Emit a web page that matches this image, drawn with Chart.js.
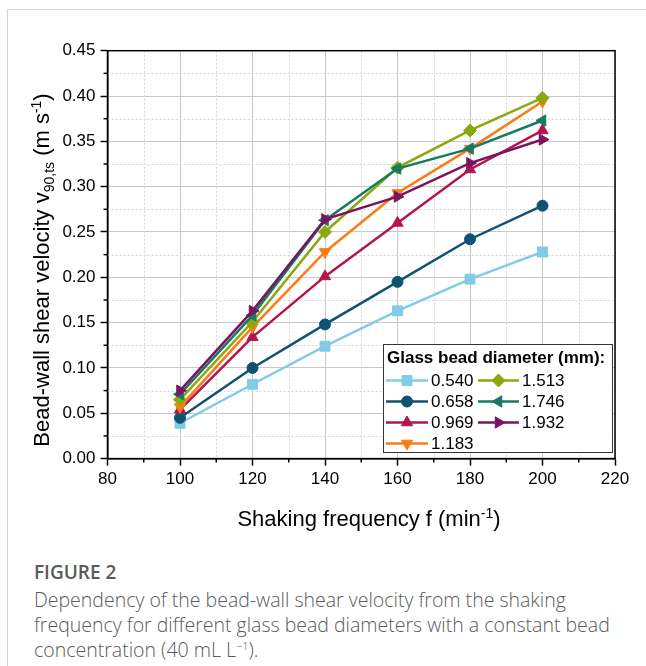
<!DOCTYPE html>
<html>
<head>
<meta charset="utf-8">
<script src="https://cdn.jsdelivr.net/npm/chart.js@4.4.1/dist/chart.umd.min.js"></script>
<style>
    html, body { margin: 0; padding: 0; background: #fff; }
    body { width: 646px; height: 666px; position: relative; overflow: hidden; }
    .card { position: absolute; left: 7px; top: 9px; width: 800px; height: 800px;
            border-top: 1px solid #d6d6d6; border-left: 1px solid #d6d6d6; }
    #chart { position: absolute; left: 0; top: 0; }
    .caption { position: absolute; left: 34px; top: 559px; font-family: "Open Sans", sans-serif;
               color: #5a5a5a; white-space: nowrap; }
    .caption .fig { font-size: 19px; font-weight: 600; line-height: 26px; }
    .caption .txt { font-size: 19.5px; font-weight: 300; line-height: 25px; margin-top: 2px; }
    .caption sup { font-size: 11px; line-height: 0; vertical-align: 7px; }
</style>
</head>
<body>
<div class="card"></div>
<canvas id="chart" width="646" height="540"></canvas>
<div class="caption">
    <div class="fig">FIGURE 2</div>
    <div class="txt">Dependency of the bead-wall shear velocity from the shaking<br>frequency for different glass bead diameters with a constant bead<br>concentration (40 mL L<sup>−1</sup>).</div>
</div>
<script>
const frequency = [100, 120, 140, 160, 180, 200];
const diameters = ['0.540', '0.658', '0.969', '1.183', '1.513', '1.746', '1.932'];

const v0540 = [0.039, 0.082, 0.124, 0.163, 0.198, 0.228];
const v0658 = [0.045, 0.100, 0.148, 0.195, 0.242, 0.279];
const v0969 = [0.054, 0.134, 0.201, 0.260, 0.319, 0.362];
const v1183 = [0.057, 0.145, 0.228, 0.293, 0.342, 0.394];
const v1513 = [0.065, 0.151, 0.250, 0.321, 0.362, 0.398];
const v1746 = [0.071, 0.158, 0.263, 0.320, 0.342, 0.373];
const v1932 = [0.075, 0.163, 0.264, 0.289, 0.326, 0.352];

const xTicks = [80, 100, 120, 140, 160, 180, 200, 220];
const yTicks = [0, 0.05, 0.10, 0.15, 0.20, 0.25, 0.30, 0.35, 0.40, 0.45];

const FONT = '"Liberation Sans", Arial, sans-serif';

const styles = [
    { color: '#80cbe7', point: 'rect', radius: 7, rot: 0 },
    { color: '#0f5373', point: 'circle', radius: 5.5, rot: 0 },
    { color: '#b5144f', point: 'triangle', radius: 6.5, rot: 0 },
    { color: '#fb7c14', point: 'triangle', radius: 6.5, rot: 180 },
    { color: '#8da70f', point: 'rectRot', radius: 6.5, rot: 0 },
    { color: '#157a60', point: 'triangle', radius: 6.5, rot: -90 },
    { color: '#7a1461', point: 'triangle', radius: 6.5, rot: 90 }
];

const series = [v0540, v0658, v0969, v1183, v1513, v1746, v1932];

const datasets = series.map((vals, i) => ({
    label: diameters[i],
    data: frequency.map((f, j) => ({ x: f, y: vals[j] })),
    showLine: true,
    borderColor: styles[i].color,
    backgroundColor: styles[i].color,
    borderWidth: 2.5,
    pointStyle: styles[i].point,
    pointRadius: styles[i].radius,
    pointRotation: styles[i].rot,
    pointBorderWidth: 1,
    pointBackgroundColor: styles[i].color,
    pointBorderColor: styles[i].color,
    tension: 0,
    order: series.length - i
}));

// draw text with sub/superscript parts, centred on x
function richText(ctx, parts, x, y) {
    const big = '22px ' + FONT, small = '14px ' + FONT;
    let total = 0;
    parts.forEach(p => {
        ctx.font = p.s === 'n' ? big : small;
        p.w = ctx.measureText(p.t).width;
        total += p.w;
    });
    let cx = x - total / 2;
    parts.forEach(p => {
        ctx.font = p.s === 'n' ? big : small;
        const dy = p.s === 'sub' ? 5 : (p.s === 'sup' ? -8 : 0);
        ctx.fillText(p.t, cx, y + dy);
        cx += p.w;
    });
}

const extrasPlugin = {
    id: 'extras',
    beforeDatasetsDraw(chart) {
        const ctx = chart.ctx;
        const a = chart.chartArea;
        const xs = chart.scales.x, ys = chart.scales.y;
        ctx.save();
        // minor grid
        ctx.strokeStyle = '#d4d4d4';
        ctx.lineWidth = 1;
        ctx.setLineDash([2, 2]);
        for (let i = 0; i < xTicks.length - 1; i++) {
            const px = Math.round(xs.getPixelForValue((xTicks[i] + xTicks[i + 1]) / 2)) + 0.5;
            ctx.beginPath(); ctx.moveTo(px, a.top); ctx.lineTo(px, a.bottom); ctx.stroke();
        }
        for (let i = 0; i < yTicks.length - 1; i++) {
            const py = Math.round(ys.getPixelForValue((yTicks[i] + yTicks[i + 1]) / 2)) + 0.5;
            ctx.beginPath(); ctx.moveTo(a.left, py); ctx.lineTo(a.right, py); ctx.stroke();
        }
        ctx.setLineDash([]);
        // minor ticks
        ctx.strokeStyle = '#000';
        ctx.lineWidth = 1.5;
        for (let i = 0; i < xTicks.length - 1; i++) {
            const px = xs.getPixelForValue((xTicks[i] + xTicks[i + 1]) / 2);
            ctx.beginPath(); ctx.moveTo(px, a.bottom); ctx.lineTo(px, a.bottom + 4); ctx.stroke();
        }
        for (let i = 0; i < yTicks.length - 1; i++) {
            const py = ys.getPixelForValue((yTicks[i] + yTicks[i + 1]) / 2);
            ctx.beginPath(); ctx.moveTo(a.left, py); ctx.lineTo(a.left - 4, py); ctx.stroke();
        }
        // frame
        ctx.strokeRect(a.left, a.top, a.right - a.left, a.bottom - a.top);
        ctx.restore();
    },
    afterDraw(chart) {
        const ctx = chart.ctx;
        ctx.save();
        ctx.fillStyle = '#000';
        ctx.textBaseline = 'alphabetic';
        // axis titles
        richText(ctx, [
            { t: 'Shaking frequency f (min', s: 'n' },
            { t: '-1', s: 'sup' },
            { t: ')', s: 'n' }
        ], 369, 526);
        ctx.translate(49, 270);
        ctx.rotate(-Math.PI / 2);
        richText(ctx, [
            { t: 'Bead-wall shear velocity v', s: 'n' },
            { t: '90,ts', s: 'sub' },
            { t: ' (m s', s: 'n' },
            { t: '-1', s: 'sup' },
            { t: ')', s: 'n' }
        ], 0, 0);
        ctx.setTransform(1, 0, 0, 1, 0, 0);

        // legend
        const box = { x: 383.5, y: 344.5, w: 229, h: 108 };
        ctx.fillStyle = '#fff';
        ctx.fillRect(box.x, box.y, box.w, box.h);
        ctx.strokeStyle = '#333';
        ctx.lineWidth = 1;
        ctx.strokeRect(box.x, box.y, box.w, box.h);
        ctx.fillStyle = '#000';
        ctx.font = 'bold 17px ' + FONT;
        ctx.textBaseline = 'middle';
        ctx.fillText('Glass bead diameter (mm):', 387, 358);
        ctx.font = '17px ' + FONT;
        const cols = [{ x0: 386, x1: 428, tx: 431 }, { x0: 478, x1: 519, tx: 522 }];
        chart.data.datasets.forEach((ds, i) => {
            const col = cols[i < 4 ? 0 : 1];
            const row = i < 4 ? i : i - 4;
            const y = 380.5 + row * 21;
            ctx.strokeStyle = ds.borderColor;
            ctx.lineWidth = 2.5;
            ctx.beginPath(); ctx.moveTo(col.x0, y); ctx.lineTo(col.x1, y); ctx.stroke();
            ctx.fillStyle = ds.borderColor;
            ctx.lineWidth = 1;
            Chart.helpers.drawPoint(ctx, {
                pointStyle: ds.pointStyle, radius: ds.pointRadius, rotation: ds.pointRotation, borderWidth: 1
            }, (col.x0 + col.x1) / 2, y);
            ctx.fillStyle = '#000';
            ctx.fillText(ds.label, col.tx, y + 1);
        });
        ctx.restore();
    }
};

new Chart(document.getElementById('chart'), {
    type: 'scatter',
    data: { datasets: datasets },
    options: {
        responsive: false,
        animation: false,
        devicePixelRatio: 1,
        layout: { padding: { top: 50.7, right: 31, left: 0, bottom: 0 } },
        plugins: { legend: { display: false }, tooltip: { enabled: false } },
        events: [],
        scales: {
            x: {
                type: 'linear', min: 80, max: 220,
                afterBuildTicks: s => { s.ticks = xTicks.map(v => ({ value: v })); },
                afterFit: s => { s.height = 81.4; },
                ticks: { font: { family: FONT, size: 17 }, color: '#000', padding: 4,
                         callback: v => String(v) },
                grid: { color: '#c9c9c9', lineWidth: 1, tickColor: '#000', tickLength: 7, tickWidth: 1.5 },
                border: { color: '#000', width: 1.5 }
            },
            y: {
                type: 'linear', min: 0, max: 0.45,
                afterBuildTicks: s => { s.ticks = yTicks.map(v => ({ value: v })); },
                afterFit: s => { s.width = 107.5; },
                ticks: { font: { family: FONT, size: 17 }, color: '#000', padding: 5,
                         callback: v => v.toFixed(2) },
                grid: { color: '#c9c9c9', lineWidth: 1, tickColor: '#000', tickLength: 7, tickWidth: 1.5 },
                border: { color: '#000', width: 1.5 }
            }
        }
    },
    plugins: [extrasPlugin]
});
</script>
</body>
</html>
